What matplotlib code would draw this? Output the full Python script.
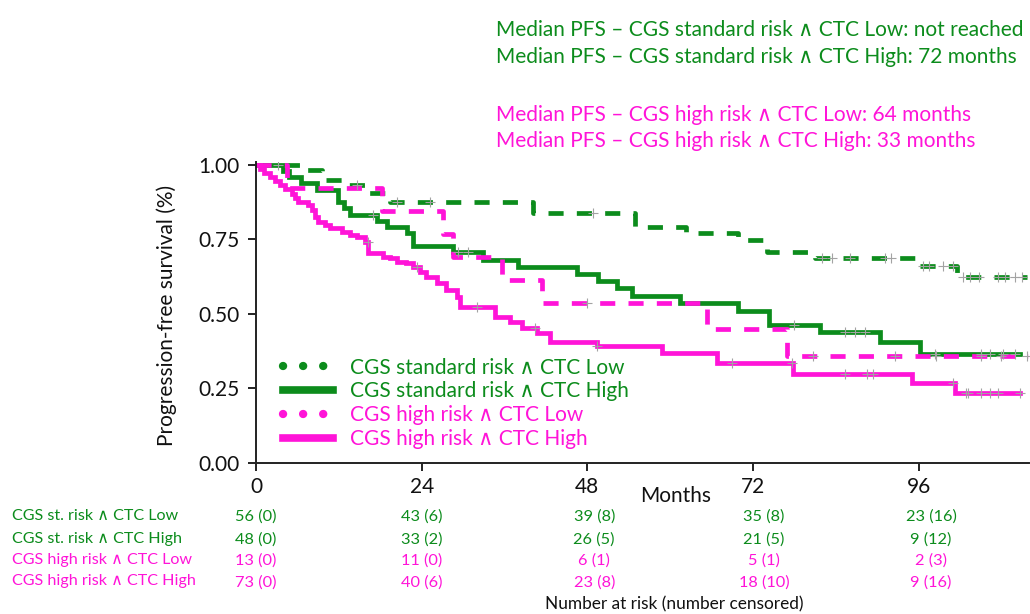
import matplotlib
matplotlib.use("Agg")
import matplotlib.pyplot as plt
import numpy as np
from matplotlib.lines import Line2D

plt.rcParams["font.family"] = ["Lato", "DejaVu Sans"]

GREEN = "#0c8c1c"
MAGENTA = "#ff14d8"
CENSOR = "#a3a3a3"

# Kaplan-Meier steps: month of each step, survival after it
# (the last entry is the end of follow-up)
std_low_t = [0, 7.4, 9.5, 12.6, 16.3, 19.4, 40.1, 54.9, 62.3, 69.9, 74.1, 81.0, 96.2, 101.6, 111.7]
std_low_s = [1.0, 0.982, 0.95, 0.933, 0.906, 0.876, 0.838, 0.793, 0.773, 0.748, 0.709, 0.687, 0.662, 0.625, 0.625]
std_low_cens = [14.7, 20.5, 25.2, 48.8, 82.0, 83.5, 86.0, 91.2, 92.0, 96.6, 97.5, 99.5, 101.0,
                102.5, 103.5, 104.8, 107.5, 108.5, 110.0, 111.0]

std_high_t = [0, 3.9, 4.8, 6.5, 8.8, 11.9, 12.8, 13.6, 17.5, 19.0, 21.9, 22.8, 28.6, 32.9, 38.0,
              46.5, 49.6, 52.3, 54.5, 61.4, 69.9, 74.3, 81.7, 90.4, 96.2, 110.7]
std_high_s = [1.0, 0.979, 0.958, 0.938, 0.917, 0.875, 0.854, 0.833, 0.813, 0.792, 0.771, 0.729, 0.708,
              0.68, 0.657, 0.633, 0.611, 0.586, 0.561, 0.537, 0.511, 0.463, 0.44, 0.407, 0.367, 0.367]
std_high_cens = [3.2, 17.0, 29.2, 30.7, 78.0, 85.4, 86.8, 88.3, 98.4, 105.0, 106.4, 108.3, 110.0]

high_low_t = [0, 4.5, 18.3, 27.1, 28.6, 35.7, 41.4, 65.4, 77.0, 112.0]
high_low_s = [1.0, 0.923, 0.846, 0.769, 0.692, 0.615, 0.538, 0.449, 0.359, 0.359]
high_low_cens = [48.0, 80.7, 92.6, 98.5, 105.0, 108.0, 111.7]

high_high_t = [0, 0.6, 1.1, 2.0, 2.8, 3.5, 4.2, 5.2, 5.6, 6.1, 7.5, 8.1, 8.6, 9.0, 10.0, 10.7, 12.4,
               13.6, 14.6, 15.8, 16.3, 18.4, 19.4, 20.4, 21.8, 22.8, 23.8, 24.7, 26.2, 27.6, 29.1,
               29.6, 34.6, 36.8, 38.5, 40.7, 42.6, 49.4, 58.8, 66.8, 77.8, 95.1, 101.3, 110.7]
high_high_s = [1.0, 0.986, 0.973, 0.959, 0.945, 0.932, 0.918, 0.904, 0.89, 0.877, 0.866, 0.849, 0.827,
               0.81, 0.799, 0.788, 0.776, 0.765, 0.758, 0.743, 0.704, 0.692, 0.687, 0.676, 0.67, 0.659,
               0.642, 0.625, 0.603, 0.581, 0.558, 0.525, 0.491, 0.474, 0.452, 0.435, 0.407, 0.393,
               0.37, 0.335, 0.299, 0.267, 0.234, 0.234]
high_high_cens = [16.2, 23.3, 32.0, 40.4, 49.4, 69.0, 77.7, 85.4, 88.5, 89.4, 101.0, 102.8, 103.2,
                  105.0, 106.4, 107.5, 110.7]

legend_labels = ["CGS standard risk \u2227 CTC Low", "CGS standard risk \u2227 CTC High",
                 "CGS high risk \u2227 CTC Low", "CGS high risk \u2227 CTC High"]
median_lines = ["Median PFS \u2013 CGS standard risk \u2227 CTC Low: not reached",
                "Median PFS \u2013 CGS standard risk \u2227 CTC High: 72 months",
                "Median PFS \u2013 CGS high risk \u2227 CTC Low: 64 months",
                "Median PFS \u2013 CGS high risk \u2227 CTC High: 33 months"]

risk_labels = ["CGS st. risk \u2227 CTC Low", "CGS st. risk \u2227 CTC High",
               "CGS high risk \u2227 CTC Low", "CGS high risk \u2227 CTC High"]
risk_months = [0, 24, 48, 72, 96]
at_risk = [[56, 43, 39, 35, 23], [48, 33, 26, 21, 9], [13, 11, 6, 5, 2], [73, 40, 23, 18, 9]]
n_censored = [[0, 6, 8, 8, 16], [0, 2, 5, 5, 12], [0, 0, 1, 1, 3], [0, 6, 8, 10, 16]]

curves = [
    (std_low_t, std_low_s, std_low_cens, GREEN, "dashed"),
    (std_high_t, std_high_s, std_high_cens, GREEN, "solid"),
    (high_low_t, high_low_s, high_low_cens, MAGENTA, "dashed"),
    (high_high_t, high_high_s, high_high_cens, MAGENTA, "solid"),
]

fig = plt.figure(figsize=(10.3, 6.14), dpi=100)
ax = fig.add_axes([256 / 1030, 1 - 463 / 614, 773 / 1030, 301 / 614])

for t, s, cens, color, style in curves:
    ls = (0, (3.2, 2.8)) if style == "dashed" else "-"
    ax.step(t, s, where="post", color=color, lw=3.4, linestyle=ls, solid_joinstyle="miter")
    t_arr = np.asarray(t)
    idx = np.searchsorted(t_arr, cens, side="right") - 1
    ax.plot(cens, np.asarray(s)[idx], linestyle="none", marker="+", color=CENSOR,
            markersize=6.5, mew=0.8, zorder=5)

ax.set_xlim(0, 112)
ax.set_ylim(0, 1.01)
ax.set_xticks(risk_months)
ax.set_yticks([0, 0.25, 0.5, 0.75, 1.0])
ax.set_yticklabels(["0.00", "0.25", "0.50", "0.75", "1.00"])
ax.tick_params(labelsize=15, length=6, width=1.4, color="#222222", labelcolor="#111111", pad=4)
ax.tick_params(axis="y", pad=6)
for side in ["top", "right"]:
    ax.spines[side].set_visible(False)
for side in ["left", "bottom"]:
    ax.spines[side].set_linewidth(1.4)
    ax.spines[side].set_color("#222222")

fig.text(167 / 1030, 1 - 315 / 614, "Progression-free survival (%)", rotation=90,
         ha="center", va="center", fontsize=15, color="#111111")
fig.text(676 / 1030, 1 - 496 / 614, "Months", ha="center", va="center", fontsize=15, color="#111111")

handles = [
    Line2D([], [], color=GREEN, lw=6, linestyle=(0, (0.01, 2.4)), dash_capstyle="round"),
    Line2D([], [], color=GREEN, lw=5.5),
    Line2D([], [], color=MAGENTA, lw=6, linestyle=(0, (0.01, 2.4)), dash_capstyle="round"),
    Line2D([], [], color=MAGENTA, lw=5.5),
]
leg = ax.legend(handles, legend_labels, loc="lower left", bbox_to_anchor=(0.035, 0.047),
                frameon=False, fontsize=15, handlelength=2.4, handletextpad=0.8,
                labelspacing=0.18, borderpad=0, borderaxespad=0)
for txt, color in zip(leg.get_texts(), [GREEN, GREEN, MAGENTA, MAGENTA]):
    txt.set_color(color)

header_y = [30, 57, 115, 141]
for line, y, color in zip(median_lines, header_y, [GREEN, GREEN, MAGENTA, MAGENTA]):
    fig.text(496 / 1030, 1 - y / 614, line, ha="left", va="center", fontsize=15, color=color)

row_y = [516, 539, 560, 581]
col_shift = [0, 0, 1, 1.6, 1.8]
trans = ax.get_xaxis_transform()
for label, y, color, n, c in zip(risk_labels, row_y, [GREEN, GREEN, MAGENTA, MAGENTA], at_risk, n_censored):
    fig.text(12 / 1030, 1 - y / 614, label, ha="left", va="center", fontsize=11.6, color=color)
    for m, shift, ni, ci in zip(risk_months, col_shift, n, c):
        ax.text(m + shift, (463 - y) / 298, f"{ni} ({ci})", transform=trans, ha="center",
                va="center", fontsize=11.8, color=color, clip_on=False)

fig.text(674 / 1030, 1 - 604 / 614, "Number at risk (number censored)", ha="center", va="center",
         fontsize=12.4, color="#111111")

fig.savefig("out.png", dpi=100)
